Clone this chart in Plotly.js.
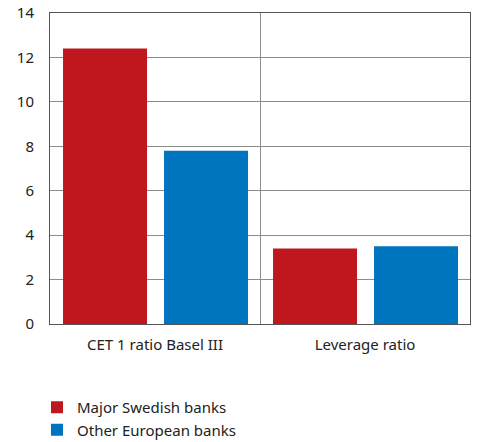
<!DOCTYPE html>
<html>
<head>
<meta charset="utf-8">
<script src="https://cdn.plot.ly/plotly-3.0.1.min.js"></script>
<style>html,body{margin:0;padding:0;background:#fff;}#chart{width:478px;height:442px;}</style>
</head>
<body>
<div id="chart"></div>
<script>
var categories = ["CET 1 ratio Basel III", "Leverage ratio"];
var swedish = [12.4, 3.4];
var european = [7.8, 3.5];
var seriesNames = ["Major Swedish banks", "Other European banks"];
var yTicks = [0, 2, 4, 6, 8, 10, 12, 14];

var font = {family: "Noto Sans, Open Sans, sans-serif", size: 15, color: "#222"};

var traces = [
  {type: "bar", name: seriesNames[0], x: categories, y: swedish,
   marker: {color: "#c0171f"}, width: 0.4, offset: -0.438, hoverinfo: "none"},
  {type: "bar", name: seriesNames[1], x: categories, y: european,
   marker: {color: "#0075bf"}, width: 0.4, offset: 0.043, hoverinfo: "none"}
];

var layout = {
  width: 478, height: 442,
  margin: {l: 50, r: 8, t: 13, b: 118, autoexpand: false},
  paper_bgcolor: "#fff", plot_bgcolor: "#fff",
  font: font,
  barmode: "group",
  showlegend: true,
  legend: {x: 37 / 478, xref: "container", xanchor: "left",
           y: 1 - 391 / 442, yref: "container", yanchor: "top", orientation: "v",
           font: font, traceorder: "normal", itemwidth: 30, tracegroupgap: 0},
  xaxis: {type: "category", tickson: "boundaries", showgrid: true, gridcolor: "#8c8c8c", gridwidth: 1,
          showline: true, mirror: true, linecolor: "#555", linewidth: 1,
          ticks: "", ticklabelstandoff: 7, tickfont: font, range: [-0.5, 1.5], fixedrange: true},
  yaxis: {range: [0, 14], tickvals: yTicks, ticktext: yTicks.map(String),
          showgrid: true, gridcolor: "#8c8c8c", gridwidth: 1, zeroline: false,
          showline: true, mirror: true, linecolor: "#555", linewidth: 1,
          ticks: "", ticklabelstandoff: 12, tickfont: font, fixedrange: true}
};

Plotly.newPlot("chart", traces, layout, {displayModeBar: false, staticPlot: true});
</script>
</body>
</html>
